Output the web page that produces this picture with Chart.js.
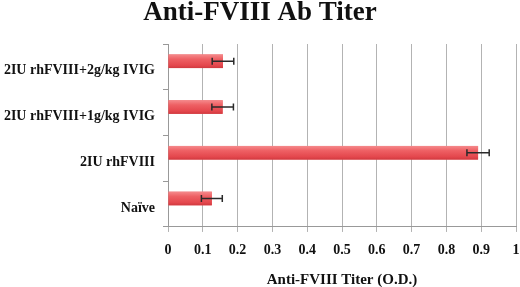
<!DOCTYPE html>
<html>
<head>
<meta charset="utf-8">
<script src="https://cdn.jsdelivr.net/npm/chart.js@4"></script>
<style>
  html, body { margin: 0; padding: 0; background: #fff; }
  #wrap { width: 520px; height: 287px; }
</style>
</head>
<body>
<div id="wrap"><canvas id="chart-titer"></canvas></div>
<script>
// ── Anti-FVIII antibody titer, horizontal bars with error bars ──
const categories  = ["2IU rhFVIII+2g/kg IVIG", "2IU rhFVIII+1g/kg IVIG", "2IU rhFVIII", "Naïve"];
const titerMeans  = [0.158, 0.157, 0.891, 0.126];
const titerErrors = [0.031, 0.031, 0.032, 0.030];
const xTickLabels = ["0", "0.1", "0.2", "0.3", "0.4", "0.5", "0.6", "0.7", "0.8", "0.9", "1"];

const SERIF = "'Liberation Serif', 'DejaVu Serif', serif";

// shaded bar faces + error bars, positioned from the library's elements/scales
const barDecor = {
  id: "barDecor",
  afterDatasetsDraw(chart) {
    const { ctx, scales: { x } } = chart;
    const meta = chart.getDatasetMeta(0);
    ctx.save();
    meta.data.forEach((bar) => {
      const h = bar.height, top = bar.y - h / 2;
      const g = ctx.createLinearGradient(0, top, 0, top + h);
      g.addColorStop(0,    "#f58a8c");
      g.addColorStop(0.35, "#ee6064");
      g.addColorStop(0.8,  "#e4474d");
      g.addColorStop(1,    "#d0393f");
      ctx.fillStyle = g;
      ctx.fillRect(bar.base, top, bar.x - bar.base, h);
    });
    ctx.strokeStyle = "#2a2a2a";
    ctx.lineWidth = 1.5;
    meta.data.forEach((bar, i) => {
      const x0 = x.getPixelForValue(titerMeans[i] - titerErrors[i]);
      const x1 = x.getPixelForValue(titerMeans[i] + titerErrors[i]);
      const y = bar.y;
      ctx.beginPath();
      ctx.moveTo(x0, y); ctx.lineTo(x1, y);
      ctx.moveTo(x0, y - 3.5); ctx.lineTo(x0, y + 3.5);
      ctx.moveTo(x1, y - 3.5); ctx.lineTo(x1, y + 3.5);
      ctx.stroke();
    });
    ctx.restore();
  },
};

new Chart(document.getElementById("chart-titer"), {
  type: "bar",
  data: {
    labels: categories,
    datasets: [
      {
        data:               titerMeans,
        backgroundColor:    "#ea5a5d",
        borderWidth:        0,
        barPercentage:      1.22,
        categoryPercentage: 0.49,
      },
      {
        // empty companion series: the original sits its bars in the upper half of each band
        data:               [],
        barPercentage:      1.22,
        categoryPercentage: 0.49,
      },
    ],
  },
  options: {
    indexAxis:           "y",
    responsive:          true,
    maintainAspectRatio: false,
    animation:           false,
    layout: { padding: { left: 0, right: 0, top: 0, bottom: 0 } },
    plugins: {
      legend:  { display: false },
      tooltip: { enabled: false },
      title: {
        display: true,
        text:    "Anti-FVIII Ab Titer",
        color:   "#111",
        font:    { family: SERIF, size: 27, weight: "bold", lineHeight: 1 },
        padding: { top: 0, bottom: 17 },
      },
    },
    scales: {
      x: {
        min: 0,
        max: 1,
        ticks: {
          stepSize: 0.1,
          color:    "#111",
          font:     { family: SERIF, size: 14, weight: "bold" },
          padding:  10,
          callback: (v, i) => xTickLabels[i],
        },
        grid:   { color: "#b3b3b3", lineWidth: 1, tickLength: 5 },
        border: { color: "#999" },
        title: {
          display: true,
          text:    "Anti-FVIII Titer (O.D.)",
          color:   "#111",
          font:    { family: SERIF, size: 15, weight: "bold", lineHeight: 0.95 },
          padding: { top: 4, bottom: 0 },
        },
        afterFit: (scale) => { scale.paddingRight = 4; },
      },
      y: {
        ticks: {
          color:       "#111",
          font:        { family: SERIF, size: 14, weight: "bold" },
          padding:     8,
          labelOffset: 4,
        },
        grid:   { drawOnChartArea: false, color: "#999", tickLength: 5, offset: true },
        border: { color: "#999" },
        afterFit: (scale) => { scale.width = 168; },
      },
    },
  },
  plugins: [barDecor],
});
</script>
</body>
</html>
